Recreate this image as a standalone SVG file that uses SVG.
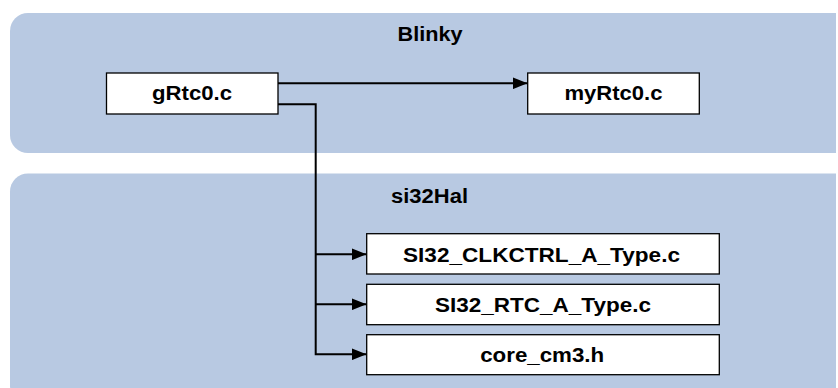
<svg xmlns="http://www.w3.org/2000/svg" width="838" height="388" viewBox="0 0 838 388">
<style>
.grp{fill:#b8c9e2;stroke:none}
.node rect{fill:#ffffff;stroke:#000000;stroke-width:1.3}
text{font-family:"Liberation Sans",Arial,sans-serif;font-weight:bold;font-size:20px;fill:#000000;text-anchor:middle}
.conn{fill:none;stroke:#000000;stroke-width:2}
</style>
<defs>
<clipPath id="clip"><rect x="0" y="0" width="836" height="388"/></clipPath>
<marker id="arr" markerWidth="15" markerHeight="12" refX="15" refY="6" orient="auto" markerUnits="userSpaceOnUse">
<path d="M0,0 L15,6 L0,12 z" fill="#000000"/>
</marker>
</defs>
<g clip-path="url(#clip)">
<g id="group-blinky">
<rect class="grp" x="10" y="13" width="846" height="140" rx="18"/>
<text x="430" y="41" textLength="65" lengthAdjust="spacingAndGlyphs">Blinky</text>
</g>
<g id="group-si32hal">
<rect class="grp" x="10" y="173.5" width="846" height="230" rx="18"/>
<text x="429.5" y="203" textLength="77" lengthAdjust="spacingAndGlyphs">si32Hal</text>
</g>
</g>
<g id="connectors">
<path class="conn" d="M278,83.3 H527.5" marker-end="url(#arr)"/>
<path class="conn" d="M278,104.3 H315.7 V354.3 H366.5" marker-end="url(#arr)"/>
<path class="conn" d="M315.7,254.3 H366.5" marker-end="url(#arr)"/>
<path class="conn" d="M315.7,304.3 H366.5" marker-end="url(#arr)"/>
</g>
<g id="node-gRtc0" class="node">
<rect x="106.5" y="73" width="171.5" height="41"/>
<text x="192" y="100" textLength="80" lengthAdjust="spacingAndGlyphs">gRtc0.c</text>
</g>
<g id="node-myRtc0" class="node">
<rect x="527.7" y="73" width="171.6" height="41"/>
<text x="613.5" y="99.7" textLength="98" lengthAdjust="spacingAndGlyphs">myRtc0.c</text>
</g>
<g id="node-clkctrl" class="node">
<rect x="366.7" y="233.7" width="352.6" height="40.3"/>
<text x="541.5" y="261.5" textLength="277" lengthAdjust="spacingAndGlyphs">SI32_CLKCTRL_A_Type.c</text>
</g>
<g id="node-rtc" class="node">
<rect x="366.7" y="284.3" width="352.6" height="40.4"/>
<text x="543" y="311.8" textLength="216" lengthAdjust="spacingAndGlyphs">SI32_RTC_A_Type.c</text>
</g>
<g id="node-core" class="node">
<rect x="366.7" y="334.7" width="352.6" height="40"/>
<text x="542.2" y="361.8" textLength="124" lengthAdjust="spacingAndGlyphs">core_cm3.h</text>
</g>
</svg>
